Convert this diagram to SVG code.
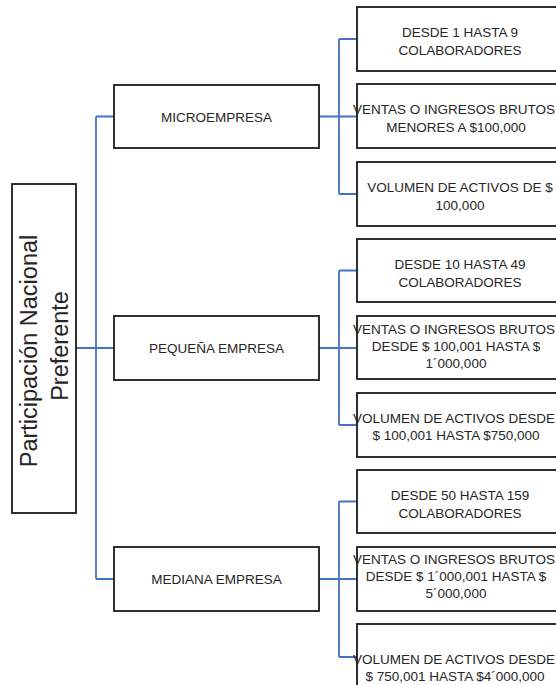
<svg xmlns="http://www.w3.org/2000/svg" width="556" height="685" viewBox="0 0 556 685">
<style>
.box{fill:#fff;stroke:#1a1a1a;stroke-width:1.8}
.t{font-family:"Liberation Sans",Arial,sans-serif;font-size:13.5px;fill:#262626;text-anchor:middle}
.root{font-family:"Liberation Sans",Arial,sans-serif;font-size:23.5px;fill:#262626;text-anchor:middle}
.c{fill:none;stroke:#4472C4;stroke-width:1.8}
</style>
<rect width="556" height="685" fill="#fff"/>
<g id="connectors">
<path class="c" d="M76 348H114M96 116.5V579M96 116.5H114M96 579H114"/>
<path class="c" d="M319 116.5H357M339 39V194M339 39H357M339 194H357"/>
<path class="c" d="M319 348H357M339 270.5V425M339 270.5H357M339 425H357"/>
<path class="c" d="M319 579H357M339 501.5V657M339 501.5H357M339 657H357"/>
</g>
<g id="root">
<rect class="box" x="12" y="184" width="64" height="329"/>
<g transform="translate(44 351) rotate(-90)">
<text class="root" x="0" y="-7">Participación  Nacional</text>
<text class="root" x="5" y="24">Preferente</text>
</g>
</g>
<g id="micro">
<rect class="box" x="114" y="85" width="205" height="63"/>
<text class="t" x="216.5" y="121.5">MICROEMPRESA</text>
</g>
<g id="pequena">
<rect class="box" x="114" y="316" width="205" height="64"/>
<text class="t" x="216.5" y="353">PEQUEÑA EMPRESA</text>
</g>
<g id="mediana">
<rect class="box" x="114" y="547" width="205" height="64"/>
<text class="t" x="216.5" y="584">MEDIANA EMPRESA</text>
</g>
<g id="micro-colab">
<rect class="box" x="357" y="7" width="210" height="64"/>
<text class="t" x="460" y="36.5">DESDE 1 HASTA 9</text>
<text class="t" x="460" y="54.5">COLABORADORES</text>
</g>
<g id="micro-ventas">
<rect class="box" x="357" y="84" width="210" height="64"/>
<text class="t" x="454" y="113.5">VENTAS O INGRESOS BRUTOS</text>
<text class="t" x="456" y="131.5">MENORES A $100,000</text>
</g>
<g id="micro-activos">
<rect class="box" x="357" y="162" width="210" height="64"/>
<text class="t" x="460" y="191.5">VOLUMEN DE ACTIVOS DE $</text>
<text class="t" x="460" y="209.5">100,000</text>
</g>
<g id="pequena-colab">
<rect class="box" x="357" y="239" width="210" height="63"/>
<text class="t" x="460" y="268.5">DESDE 10 HASTA 49</text>
<text class="t" x="460" y="286.5">COLABORADORES</text>
</g>
<g id="pequena-ventas">
<rect class="box" x="357" y="316" width="210" height="63"/>
<text class="t" x="454" y="333.5">VENTAS O INGRESOS BRUTOS</text>
<text class="t" x="456" y="350.5">DESDE $ 100,001 HASTA $</text>
<text class="t" x="456" y="367.5">1´000,000</text>
</g>
<g id="pequena-activos">
<rect class="box" x="357" y="393" width="210" height="64"/>
<text class="t" x="454" y="423">VOLUMEN DE ACTIVOS DESDE</text>
<text class="t" x="456" y="440">$ 100,001 HASTA $750,000</text>
</g>
<g id="mediana-colab">
<rect class="box" x="357" y="470" width="210" height="63"/>
<text class="t" x="460" y="500">DESDE 50 HASTA 159</text>
<text class="t" x="460" y="518">COLABORADORES</text>
</g>
<g id="mediana-ventas">
<rect class="box" x="357" y="547" width="210" height="64"/>
<text class="t" x="454" y="564">VENTAS O INGRESOS BRUTOS</text>
<text class="t" x="456" y="581">DESDE $ 1´000,001 HASTA $</text>
<text class="t" x="456" y="598">5´000,000</text>
</g>
<g id="mediana-activos">
<rect class="box" x="357" y="624" width="210" height="84"/>
<text class="t" x="454" y="664">VOLUMEN DE ACTIVOS DESDE</text>
<text class="t" x="455" y="681">$ 750,001 HASTA $4´000,000</text>
</g>
</svg>
